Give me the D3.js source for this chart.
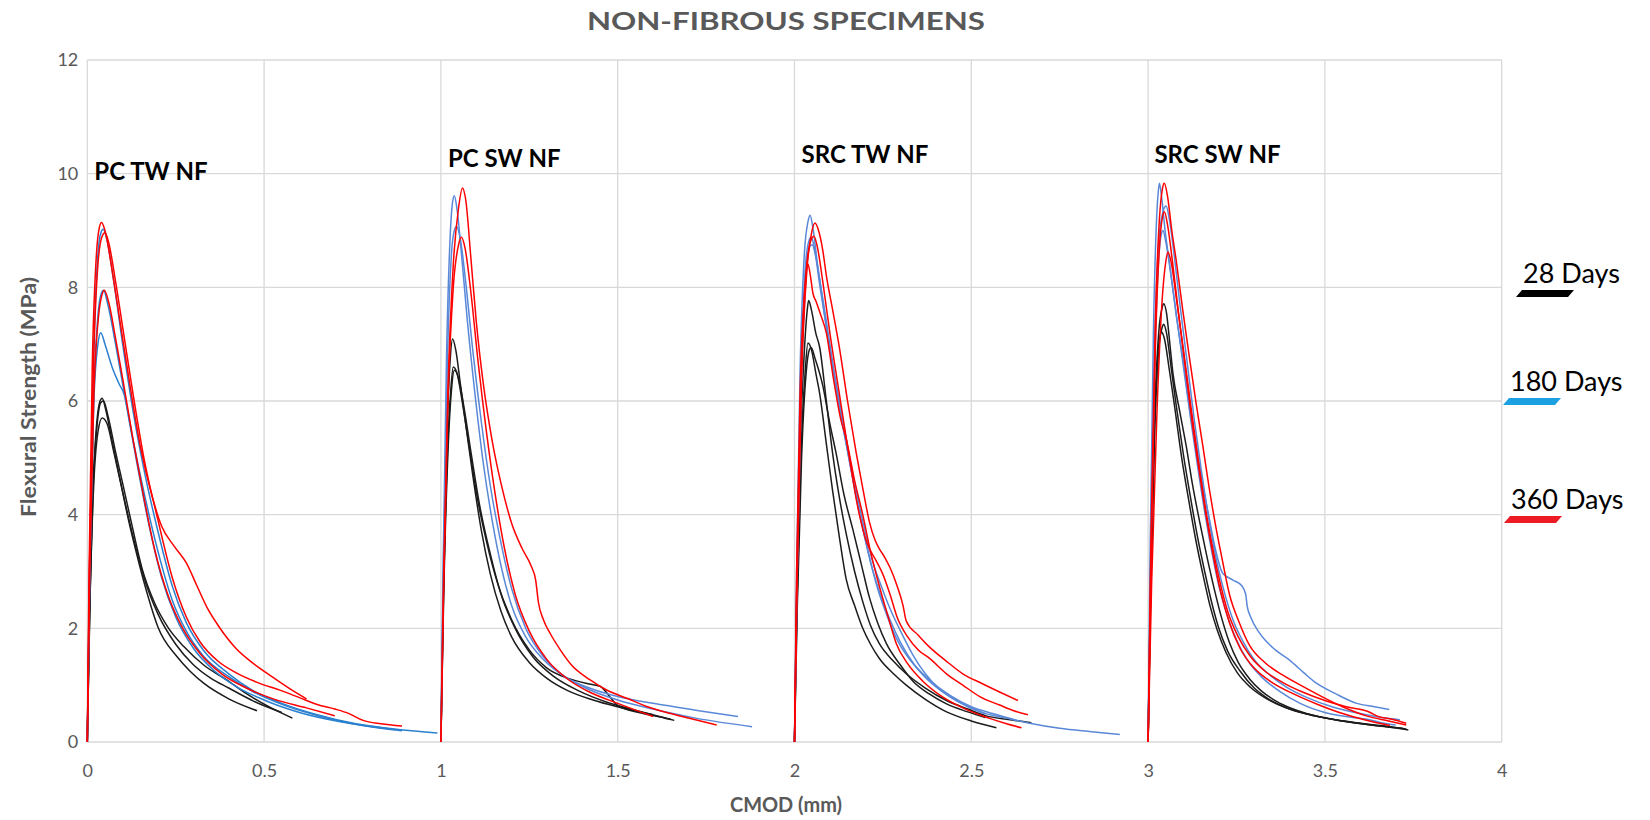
<!DOCTYPE html>
<html>
<head>
<meta charset="utf-8">
<script src="https://cdn.jsdelivr.net/npm/d3@7"></script>
<style>
  html, body { margin: 0; padding: 0; background: #fff; }
  svg { display: block; }
</style>
</head>
<body>
<svg id="chart" width="1650" height="820"></svg>
<script>
// ---- labels and ticks ----
const chartTitle = "NON-FIBROUS SPECIMENS";
const xTitle = "CMOD (mm)";
const yTitle = "Flexural Strength (MPa)";
const groupLabels = ["PC TW NF", "PC SW NF", "SRC TW NF", "SRC SW NF"];
const ageLabels = ["28 Days", "180 Days", "360 Days"];
const xTicks = [0, 0.5, 1, 1.5, 2, 2.5, 3, 3.5, 4];
const yTicks = [0, 2, 4, 6, 8, 10, 12];

// ---- PC TW NF (CMOD, stress) ----
const pcTw28a = [[0,0],[0.006,2.2],[0.014,4.2],[0.024,5.4],[0.035,5.98],[0.042,6.05],[0.052,5.85],[0.07,5.3],[0.09,4.7],[0.115,3.95],[0.14,3.3],[0.17,2.6],[0.2,2.02],[0.254,1.5],[0.29,1.25],[0.33,1.03],[0.4,0.76],[0.48,0.55]];
const pcTw28b = [[0,0],[0.007,2.4],[0.016,4.4],[0.028,5.6],[0.038,5.97],[0.046,6.0],[0.058,5.75],[0.08,5.1],[0.1,4.55],[0.125,3.85],[0.155,3.05],[0.19,2.45],[0.23,2.0],[0.273,1.68],[0.33,1.35],[0.395,1.09],[0.45,0.85],[0.52,0.6],[0.58,0.42]];
const pcTw28c = [[0,0],[0.008,2.6],[0.018,4.5],[0.03,5.45],[0.042,5.7],[0.056,5.6],[0.075,5.1],[0.1,4.4],[0.13,3.6],[0.16,2.9],[0.2,2.25],[0.25,1.72],[0.3,1.36],[0.35,1.12],[0.4,0.95],[0.47,0.72],[0.55,0.52]];
const pcTw180a = [[0,0],[0.006,3],[0.016,6.4],[0.028,8.4],[0.038,8.95],[0.045,9.02],[0.055,8.85],[0.075,8.1],[0.1,7.0],[0.13,5.8],[0.16,4.8],[0.2,3.7],[0.24,2.75],[0.28,2.1],[0.33,1.6],[0.4,1.2],[0.47,0.9],[0.55,0.68],[0.65,0.48],[0.76,0.32],[0.88,0.22],[0.99,0.16]];
const pcTw180b = [[0,0],[0.007,3],[0.018,6.1],[0.03,7.5],[0.04,7.9],[0.046,7.95],[0.058,7.7],[0.08,7.0],[0.1,6.3],[0.13,5.3],[0.16,4.4],[0.2,3.35],[0.24,2.5],[0.28,1.95],[0.33,1.5],[0.4,1.15],[0.47,0.88],[0.56,0.64],[0.66,0.45],[0.77,0.3],[0.89,0.2]];
const pcTw180c = [[0,0],[0.007,3],[0.018,5.9],[0.03,7.0],[0.038,7.2],[0.05,7.0],[0.07,6.6],[0.09,6.3],[0.105,6.1],[0.12,5.6],[0.145,4.75],[0.175,3.8],[0.21,2.9],[0.25,2.2],[0.3,1.65],[0.36,1.25],[0.42,0.98],[0.5,0.74],[0.6,0.52],[0.72,0.35],[0.87,0.22]];
const pcTw360a = [[0,0],[0.005,3],[0.014,6.6],[0.026,8.6],[0.034,9.05],[0.04,9.14],[0.05,9.0],[0.07,8.3],[0.09,7.5],[0.12,6.3],[0.15,5.2],[0.18,4.4],[0.21,3.8],[0.245,3.45],[0.28,3.15],[0.31,2.75],[0.34,2.35],[0.37,2.05],[0.42,1.65],[0.47,1.38],[0.52,1.16],[0.57,0.95],[0.62,0.76]];
const pcTw360b = [[0,0],[0.006,3],[0.017,6.5],[0.03,8.4],[0.042,8.9],[0.05,8.96],[0.06,8.8],[0.08,8.1],[0.1,7.3],[0.13,6.1],[0.16,5.0],[0.2,3.9],[0.24,2.9],[0.28,2.2],[0.32,1.75],[0.37,1.42],[0.42,1.22],[0.48,1.05],[0.55,0.9],[0.6,0.78],[0.65,0.66],[0.7,0.58],[0.74,0.5],[0.78,0.38],[0.83,0.32],[0.89,0.28]];
const pcTw360c = [[0,0],[0.007,3],[0.018,6],[0.032,7.5],[0.042,7.88],[0.048,7.95],[0.06,7.75],[0.08,7.1],[0.1,6.4],[0.13,5.3],[0.16,4.3],[0.19,3.4],[0.23,2.55],[0.27,2.0],[0.32,1.55],[0.38,1.2],[0.45,0.95],[0.53,0.75],[0.62,0.6],[0.7,0.46]];

// ---- PC SW NF ----
const pcSw28a = [[1,0],[1.006,2.5],[1.016,5.2],[1.026,6.7],[1.033,7.09],[1.042,6.9],[1.055,6.3],[1.07,5.6],[1.09,4.7],[1.115,3.7],[1.14,2.95],[1.17,2.3],[1.2,1.85],[1.25,1.4],[1.3,1.12],[1.36,0.9],[1.43,0.74],[1.5,0.62],[1.6,0.48]];
const pcSw28b = [[1,0],[1.007,2.5],[1.018,5.0],[1.028,6.2],[1.035,6.6],[1.045,6.5],[1.06,6.0],[1.08,5.2],[1.1,4.4],[1.13,3.5],[1.16,2.8],[1.2,2.15],[1.25,1.62],[1.3,1.3],[1.36,1.12],[1.42,1.02],[1.45,0.98],[1.48,0.78],[1.5,0.64],[1.56,0.52],[1.62,0.44],[1.66,0.38]];
const pcSw28c = [[1,0],[1.008,2.6],[1.02,5.1],[1.03,6.2],[1.038,6.54],[1.05,6.4],[1.065,5.9],[1.085,5.1],[1.11,4.15],[1.14,3.3],[1.17,2.6],[1.21,2.0],[1.26,1.5],[1.32,1.15],[1.39,0.9],[1.47,0.7],[1.55,0.56],[1.65,0.4]];
const pcSw180a = [[1,0],[1.006,3],[1.016,6.8],[1.027,9.0],[1.033,9.5],[1.038,9.61],[1.045,9.4],[1.058,8.6],[1.075,7.4],[1.095,6.2],[1.12,4.9],[1.145,3.9],[1.17,3.1],[1.2,2.4],[1.24,1.85],[1.29,1.45],[1.35,1.15],[1.42,0.95],[1.5,0.8],[1.6,0.68],[1.72,0.56],[1.84,0.45]];
const pcSw180b = [[1,0],[1.007,3],[1.018,6.6],[1.03,8.6],[1.038,9.0],[1.044,9.07],[1.055,8.85],[1.07,8.1],[1.09,6.9],[1.115,5.6],[1.14,4.5],[1.17,3.5],[1.2,2.7],[1.24,2.0],[1.29,1.5],[1.35,1.15],[1.42,0.92],[1.5,0.74],[1.6,0.58],[1.72,0.42],[1.88,0.27]];
const pcSw360a = [[1,0],[1.008,3],[1.02,6.2],[1.035,8.4],[1.05,9.4],[1.061,9.75],[1.07,9.55],[1.085,8.5],[1.1,7.4],[1.12,6.3],[1.145,5.3],[1.17,4.55],[1.2,3.85],[1.23,3.4],[1.255,3.1],[1.268,2.85],[1.276,2.45],[1.29,2.15],[1.31,1.9],[1.34,1.6],[1.37,1.35],[1.42,1.1],[1.47,0.91],[1.53,0.76],[1.58,0.63],[1.65,0.5],[1.72,0.39],[1.78,0.3]];
const pcSw360b = [[1,0],[1.008,2.8],[1.02,6],[1.035,8.0],[1.05,8.75],[1.058,8.88],[1.068,8.7],[1.085,7.9],[1.105,6.7],[1.13,5.4],[1.155,4.3],[1.18,3.4],[1.21,2.6],[1.25,1.95],[1.3,1.45],[1.36,1.1],[1.42,0.88],[1.5,0.68],[1.6,0.45]];

// ---- SRC TW NF ----
const srcTw28a = [[2,0],[2.006,2.5],[2.016,5.2],[2.028,6.9],[2.036,7.6],[2.04,7.77],[2.048,7.6],[2.06,7.2],[2.071,6.95],[2.09,6.0],[2.108,5.07],[2.127,4.3],[2.146,3.67],[2.17,3.0],[2.193,2.47],[2.215,2.05],[2.24,1.73],[2.28,1.42],[2.316,1.2],[2.37,0.95],[2.43,0.73],[2.49,0.58],[2.542,0.46],[2.6,0.4],[2.67,0.34]];
const srcTw28b = [[2,0],[2.007,2.4],[2.018,5.0],[2.03,6.5],[2.038,7.02],[2.048,6.9],[2.06,6.5],[2.071,6.14],[2.09,5.25],[2.108,4.41],[2.127,3.6],[2.146,2.87],[2.17,2.4],[2.193,2.0],[2.215,1.72],[2.24,1.47],[2.28,1.2],[2.316,1.0],[2.37,0.75],[2.43,0.53],[2.5,0.37],[2.571,0.25]];
const srcTw28c = [[2,0],[2.008,2.4],[2.02,5.0],[2.033,6.5],[2.042,6.9],[2.047,6.94],[2.058,6.75],[2.08,6.27],[2.1,5.6],[2.118,5.07],[2.14,4.35],[2.165,3.74],[2.19,3.1],[2.212,2.54],[2.235,2.1],[2.26,1.73],[2.3,1.35],[2.335,1.07],[2.38,0.85],[2.43,0.67],[2.49,0.53],[2.54,0.43]];
const srcTw180a = [[2,0],[2.006,3],[2.016,6.6],[2.028,8.6],[2.038,9.15],[2.044,9.27],[2.052,9.05],[2.065,8.4],[2.08,7.75],[2.1,6.9],[2.127,6.0],[2.15,5.2],[2.175,4.4],[2.2,3.7],[2.22,3.2],[2.245,2.75],[2.27,2.35],[2.3,1.95],[2.335,1.53],[2.37,1.2],[2.41,0.93],[2.46,0.72],[2.524,0.53],[2.6,0.42],[2.665,0.33],[2.75,0.24],[2.84,0.18],[2.92,0.13]];
const srcTw180b = [[2,0],[2.007,3],[2.018,6.4],[2.03,8.3],[2.04,8.8],[2.047,8.88],[2.056,8.7],[2.07,8.1],[2.09,7.3],[2.11,6.5],[2.135,5.6],[2.16,4.8],[2.185,4.0],[2.21,3.3],[2.235,2.7],[2.26,2.25],[2.29,1.8],[2.33,1.42],[2.38,1.1],[2.44,0.82],[2.5,0.62],[2.56,0.5],[2.63,0.38]];
const srcTw180c = [[2,0],[2.008,3],[2.02,6.4],[2.033,8.2],[2.042,8.7],[2.05,8.75],[2.06,8.55],[2.075,8.0],[2.095,7.2],[2.12,6.2],[2.145,5.3],[2.17,4.45],[2.195,3.7],[2.22,3.05],[2.245,2.55],[2.27,2.15],[2.3,1.75],[2.34,1.35],[2.39,1.02],[2.45,0.76],[2.5,0.6],[2.54,0.5]];
const srcTw360a = [[2,0],[2.008,3],[2.02,6.4],[2.035,8.3],[2.048,8.95],[2.058,9.13],[2.068,9.0],[2.08,8.65],[2.09,8.21],[2.108,7.6],[2.127,6.94],[2.15,6.0],[2.175,5.07],[2.195,4.4],[2.212,3.87],[2.228,3.55],[2.24,3.4],[2.255,3.25],[2.27,3.07],[2.29,2.75],[2.307,2.4],[2.316,2.13],[2.35,1.88],[2.382,1.67],[2.43,1.42],[2.476,1.2],[2.53,1.03],[2.58,0.88],[2.632,0.73]];
const srcTw360b = [[2,0],[2.007,3],[2.018,6.3],[2.032,8.2],[2.045,8.8],[2.055,8.9],[2.065,8.7],[2.08,8.1],[2.1,7.2],[2.125,6.2],[2.15,5.2],[2.18,4.1],[2.205,3.5],[2.23,3.2],[2.25,2.95],[2.27,2.6],[2.29,2.2],[2.32,1.85],[2.35,1.62],[2.382,1.47],[2.43,1.2],[2.476,1.0],[2.524,0.8],[2.58,0.65],[2.62,0.55],[2.66,0.48]];
const srcTw360c = [[2,0],[2.006,3],[2.016,6.2],[2.028,7.9],[2.035,8.35],[2.038,8.41],[2.045,8.2],[2.052,7.9],[2.061,7.75],[2.075,7.5],[2.09,7.2],[2.11,6.4],[2.13,5.7],[2.146,5.34],[2.17,4.6],[2.193,4.0],[2.215,3.35],[2.24,2.74],[2.265,2.2],[2.288,1.73],[2.32,1.38],[2.363,1.07],[2.41,0.83],[2.476,0.6],[2.55,0.42],[2.6,0.32],[2.642,0.25]];

// ---- SRC SW NF ----
const srcSw28a = [[3,0],[3.007,2.8],[3.017,5.5],[3.03,7.2],[3.04,7.65],[3.044,7.71],[3.052,7.55],[3.06,7.1],[3.07,6.5],[3.09,5.8],[3.108,5.2],[3.125,4.55],[3.145,3.9],[3.165,3.3],[3.183,2.8],[3.205,2.25],[3.23,1.75],[3.255,1.4],[3.287,1.11],[3.32,0.9],[3.362,0.72],[3.41,0.58],[3.466,0.47],[3.53,0.39],[3.6,0.33],[3.67,0.28],[3.73,0.23]];
const srcSw28b = [[3,0],[3.007,2.7],[3.018,5.4],[3.03,6.9],[3.04,7.3],[3.044,7.35],[3.052,7.2],[3.065,6.6],[3.08,5.9],[3.1,5.05],[3.12,4.3],[3.14,3.6],[3.16,3.0],[3.18,2.45],[3.2,2.0],[3.225,1.6],[3.26,1.25],[3.3,0.95],[3.34,0.76],[3.4,0.58],[3.47,0.46],[3.55,0.37],[3.63,0.3],[3.72,0.24]];
const srcSw28c = [[3,0],[3.008,2.8],[3.018,5.4],[3.028,6.8],[3.034,7.15],[3.037,7.22],[3.046,7.1],[3.06,6.55],[3.075,5.9],[3.095,5.0],[3.115,4.25],[3.135,3.55],[3.155,2.95],[3.175,2.4],[3.195,1.98],[3.22,1.58],[3.252,1.22],[3.29,0.96],[3.33,0.78],[3.39,0.6],[3.46,0.48],[3.54,0.38],[3.62,0.31],[3.7,0.25],[3.736,0.21]];
const srcSw180a = [[3,0],[3.006,3.5],[3.015,7.2],[3.024,9.2],[3.029,9.7],[3.032,9.83],[3.038,9.6],[3.048,9.0],[3.06,8.45],[3.08,7.5],[3.098,6.76],[3.117,5.9],[3.136,5.2],[3.155,4.5],[3.174,3.9],[3.19,3.4],[3.211,2.97],[3.24,2.85],[3.265,2.75],[3.276,2.6],[3.28,2.4],[3.29,2.2],[3.316,1.91],[3.36,1.62],[3.4,1.44],[3.44,1.22],[3.477,1.03],[3.53,0.85],[3.59,0.68],[3.64,0.62],[3.682,0.57]];
const srcSw180b = [[3,0],[3.007,3.2],[3.018,6.8],[3.03,8.8],[3.043,9.35],[3.051,9.43],[3.06,9.2],[3.075,8.5],[3.09,7.7],[3.11,6.7],[3.13,5.7],[3.15,4.8],[3.17,4.0],[3.19,3.3],[3.215,2.65],[3.24,2.15],[3.27,1.75],[3.3,1.45],[3.34,1.2],[3.39,0.97],[3.45,0.78],[3.52,0.62],[3.6,0.5],[3.66,0.43],[3.712,0.39]];
const srcSw180c = [[3,0],[3.007,3],[3.018,6.5],[3.03,8.5],[3.038,8.95],[3.042,9.0],[3.05,8.8],[3.065,8.2],[3.08,7.5],[3.1,6.6],[3.12,5.7],[3.14,4.85],[3.16,4.05],[3.18,3.35],[3.2,2.75],[3.225,2.2],[3.25,1.8],[3.28,1.45],[3.32,1.15],[3.37,0.9],[3.43,0.68],[3.5,0.52],[3.57,0.44],[3.62,0.4],[3.66,0.34],[3.7,0.3]];
const srcSw360a = [[3,0],[3.008,3.5],[3.02,7.3],[3.032,9.2],[3.041,9.75],[3.046,9.83],[3.055,9.6],[3.067,9.0],[3.08,8.45],[3.098,7.6],[3.117,6.76],[3.136,5.95],[3.155,5.2],[3.172,4.5],[3.19,3.84],[3.21,3.2],[3.23,2.6],[3.258,2.1],[3.287,1.7],[3.33,1.4],[3.38,1.18],[3.44,0.97],[3.494,0.79],[3.55,0.62],[3.617,0.46],[3.68,0.37],[3.73,0.3]];
const srcSw360b = [[3,0],[3.008,3.2],[3.02,6.8],[3.033,8.8],[3.042,9.27],[3.046,9.33],[3.055,9.1],[3.068,8.5],[3.085,7.6],[3.105,6.6],[3.125,5.6],[3.145,4.75],[3.165,3.95],[3.185,3.25],[3.205,2.65],[3.23,2.1],[3.26,1.65],[3.3,1.3],[3.35,1.05],[3.41,0.85],[3.48,0.66],[3.55,0.5],[3.62,0.38],[3.684,0.29]];
const srcSw360c = [[3,0],[3.01,2.8],[3.025,5.8],[3.04,7.8],[3.05,8.45],[3.056,8.62],[3.065,8.45],[3.08,7.8],[3.1,6.9],[3.12,5.95],[3.14,5.05],[3.16,4.2],[3.18,3.5],[3.2,2.9],[3.225,2.3],[3.255,1.85],[3.29,1.5],[3.33,1.25],[3.38,1.05],[3.44,0.87],[3.5,0.73],[3.56,0.62],[3.628,0.52],[3.65,0.45],[3.69,0.4],[3.73,0.33]];

// curve table: group index, age index, points
const curves = [
  {g:0,a:0,p:pcTw28a},{g:0,a:0,p:pcTw28b},{g:0,a:0,p:pcTw28c},
  {g:0,a:1,p:pcTw180a},{g:0,a:1,p:pcTw180b},{g:0,a:1,p:pcTw180c},
  {g:0,a:2,p:pcTw360a},{g:0,a:2,p:pcTw360b},{g:0,a:2,p:pcTw360c},
  {g:1,a:0,p:pcSw28a},{g:1,a:0,p:pcSw28b},{g:1,a:0,p:pcSw28c},
  {g:1,a:1,p:pcSw180a},{g:1,a:1,p:pcSw180b},
  {g:1,a:2,p:pcSw360a},{g:1,a:2,p:pcSw360b},
  {g:2,a:0,p:srcTw28a},{g:2,a:0,p:srcTw28b},{g:2,a:0,p:srcTw28c},
  {g:2,a:1,p:srcTw180a},{g:2,a:1,p:srcTw180b},{g:2,a:1,p:srcTw180c},
  {g:2,a:2,p:srcTw360a},{g:2,a:2,p:srcTw360b},{g:2,a:2,p:srcTw360c},
  {g:3,a:0,p:srcSw28a},{g:3,a:0,p:srcSw28b},{g:3,a:0,p:srcSw28c},
  {g:3,a:1,p:srcSw180a},{g:3,a:1,p:srcSw180b},{g:3,a:1,p:srcSw180c},
  {g:3,a:2,p:srcSw360a},{g:3,a:2,p:srcSw360b},{g:3,a:2,p:srcSw360c}
];

// ---- styling ----
const lineColor = (g, a) => a === 0 ? "#1c1c1c" : a === 2 ? "#ff0000" : (g === 0 ? "#2a80cf" : "#5a88d8");
const legendColors = ["#000000", "#1ba1e2", "#ed1c24"];
const gridColor = "#d9d9d9";
const textGray = "#595959";
const font = "Lato, 'Open Sans', sans-serif";

const svg = d3.select("#chart");
const x = d3.scaleLinear().domain([0, 4]).range([87.3, 1501.7]);
const y = d3.scaleLinear().domain([0, 12]).range([742, 60]);

// gridlines
const grid = svg.append("g");
grid.selectAll("line.v").data(xTicks).join("line")
  .attr("x1", d => x(d)).attr("x2", d => x(d))
  .attr("y1", y(0)).attr("y2", y(12))
  .attr("stroke", gridColor).attr("stroke-width", 1.3);
grid.selectAll("line.h").data(yTicks).join("line")
  .attr("x1", x(0)).attr("x2", x(4))
  .attr("y1", d => y(d)).attr("y2", d => y(d))
  .attr("stroke", gridColor).attr("stroke-width", 1.3);

// axes (labels only)
const xAxis = svg.append("g").attr("transform", `translate(0,${y(0)})`)
  .call(d3.axisBottom(x).tickValues(xTicks).tickSize(0).tickPadding(22).tickFormat(d3.format("")));
const yAxis = svg.append("g").attr("transform", `translate(${x(0)},0)`)
  .call(d3.axisLeft(y).tickValues(yTicks).tickSize(0).tickPadding(9));
[xAxis, yAxis].forEach(ax => {
  ax.select(".domain").remove();
  ax.selectAll("text").attr("fill", textGray).style("font-family", font).style("font-size", "18px");
});

// curves
const line = d3.line().x(d => x(d[0])).y(d => y(d[1])).curve(d3.curveMonotoneX);
svg.append("g").selectAll("path")
  .data(curves.slice().sort((p, q) => p.a - q.a))
  .join("path")
  .attr("d", d => line(d.p))
  .attr("fill", "none")
  .attr("stroke", d => lineColor(d.g, d.a))
  .attr("stroke-width", 1.5)
  .attr("stroke-linejoin", "round");

// group labels
const groupPos = [[0.02, 180], [1.02, 167], [2.02, 163], [3.018, 163]];
svg.append("g").selectAll("text").data(groupLabels).join("text")
  .attr("x", (d, i) => x(groupPos[i][0]))
  .attr("y", (d, i) => groupPos[i][1])
  .text(d => d)
  .attr("fill", "#000")
  .style("font-family", font).style("font-weight", "bold").style("font-size", "24px");

// titles
svg.append("text").attr("x", 786).attr("y", 30).attr("text-anchor", "middle")
  .attr("textLength", 398).attr("lengthAdjust", "spacingAndGlyphs")
  .text(chartTitle).attr("fill", textGray)
  .style("font-family", font).style("font-weight", "bold").style("font-size", "24px");
svg.append("text").attr("x", 786).attr("y", 812).attr("text-anchor", "middle")
  .attr("textLength", 112).attr("lengthAdjust", "spacingAndGlyphs")
  .text(xTitle).attr("fill", textGray)
  .style("font-family", font).style("font-weight", "bold").style("font-size", "20px");
svg.append("text").attr("transform", `translate(36,${y(6) - 4}) rotate(-90)`).attr("text-anchor", "middle")
  .attr("textLength", 240).attr("lengthAdjust", "spacingAndGlyphs")
  .text(yTitle).attr("fill", textGray)
  .style("font-family", font).style("font-weight", "bold").style("font-size", "21px");

// legend: label with slanted colour bar underneath
const legendY = [283, 391, 509];
const legendX = [1523, 1510, 1511];
const lg = svg.append("g");
ageLabels.forEach((lab, i) => {
  lg.append("text").attr("x", legendX[i]).attr("y", legendY[i]).text(lab)
    .attr("fill", "#000").style("font-family", font).style("font-size", "27px");
  const bx = legendX[i] - 7, by = legendY[i] + 7, w = 52, h = 7, s = 6;
  lg.append("polygon")
    .attr("points", `${bx},${by + h} ${bx + s},${by} ${bx + w + s},${by} ${bx + w},${by + h}`)
    .attr("fill", legendColors[i]);
});
</script>
</body>
</html>
